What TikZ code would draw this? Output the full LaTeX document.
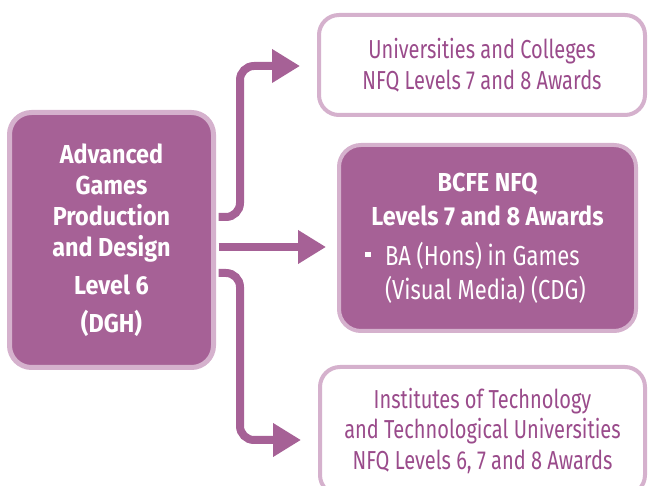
\documentclass[tikz,border=0pt]{standalone}
\usepackage{fontspec}
\setmainfont{Fira Sans}[FakeStretch=0.77,BoldFeatures={FakeStretch=0.9}]
\usetikzlibrary{arrows.meta}
\definecolor{plum}{HTML}{A66196}
\definecolor{lilac}{HTML}{D5B1CD}
\definecolor{plumtext}{HTML}{9A4B8B}
\newcommand{\bulletfont}{\fontsize{27.5}{34}\selectfont\addfontfeature{FakeStretch=0.8}}
\begin{document}
\begin{tikzpicture}[x=1pt,y=-1pt,
  darkbox/.style={draw=lilac, fill=plum, text=white, line width=5pt,
    rounded corners=22pt, align=center, inner sep=0pt,
    font=\fontsize{26}{31}\selectfont\bfseries},
  lightbox/.style={draw=lilac, fill=white, text=plumtext, line width=4pt,
    rounded corners=20pt, align=center, inner sep=0pt,
    font=\fontsize{26}{30.5}\selectfont},
  flow/.style={draw=plum, line width=8pt, rounded corners=14pt,
    -{Triangle[width=32pt,length=28pt]}}]
\useasboundingbox (0,0) rectangle (649,486);
\clip (0,0) rectangle (649,486);
% boxes
\node[darkbox, minimum width=204pt, minimum height=255pt] (src) at (111.5,240)
  {Advanced\\Games\\Production\\and Design\\[7pt]Level 6\\[7pt](DGH)};
\node[lightbox, minimum width=326pt, minimum height=100pt] (uni) at (482,65)
  {Universities and Colleges\\NFQ Levels 7 and 8 Awards};
\node[darkbox, line width=4pt, minimum width=297pt, minimum height=186pt,
  font=\fontsize{26}{34}\selectfont] (bcfe) at (487.5,238)
  {{\bfseries BCFE NFQ}\\{\bfseries Levels 7 and 8 Awards}\\[6pt]
   \makebox[245pt][l]{\bulletfont\rule[8pt]{5.5pt}{5.5pt}\hspace{14.5pt}BA (Hons) in Games}\\
   \makebox[245pt][l]{\bulletfont\hspace{20pt}(Visual Media) (CDG)}};
\node[lightbox, minimum width=325pt, minimum height=128pt] (ito) at (482.5,431)
  {Institutes of Technology\\and Technological Universities\\NFQ Levels 6, 7 and 8 Awards};
% connectors
\coordinate (up) at (240,66);
\coordinate (dn) at (240,440);
\draw[flow] ([xshift=2.5pt]src.east |- 0,217) -- (up |- 0,217) -- (up)
  -- ([xshift=-17pt]uni.west |- up);
\draw[flow] ([xshift=2.5pt]src.east |- 0,247) -- ([xshift=-11pt]bcfe.west |- 0,247);
\draw[flow] ([xshift=2.5pt]src.east |- 0,273) -- (dn |- 0,273) -- (dn)
  -- ([xshift=-17pt]ito.west |- dn);
\end{tikzpicture}
\end{document}
